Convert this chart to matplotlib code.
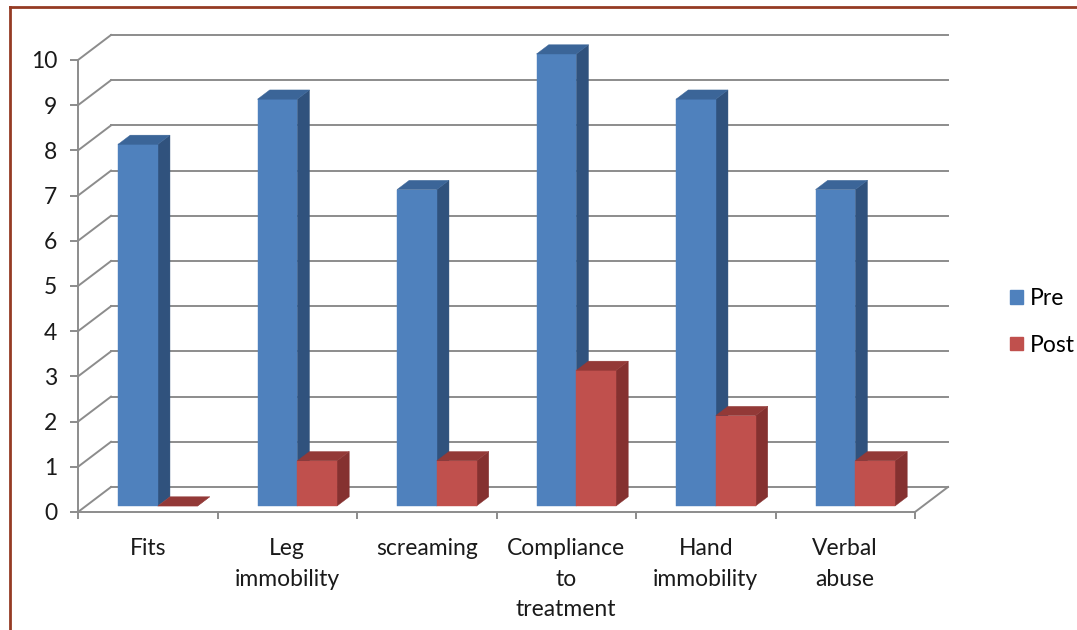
import matplotlib.pyplot as plt
from matplotlib.patches import Polygon, Patch
from matplotlib.lines import Line2D

# Data
categories = ["Fits", "Leg\nimmobility", "screaming", "Compliance\nto\ntreatment",
              "Hand\nimmobility", "Verbal\nabuse"]
pre = [8, 9, 7, 10, 9, 7]
post = [0, 1, 1, 3, 2, 1]
y_ticks = list(range(0, 11))

# Excel-like colours
pre_cols = ("#4F81BD", "#30527D", "#3B6598")    # front, side, top
post_cols = ("#C0504D", "#853130", "#933937")
grid_col = "#8C8C8C"
border_col = "#953B24"

plt.rcParams['font.family'] = ['Lato', 'DejaVu Sans']

W, H = 1077, 630
fig = plt.figure(figsize=(W / 100, H / 100), dpi=100)

# front plane of the plot in pixels
x0, x1 = 78, 915
y0, y1 = 512, 60
ax = fig.add_axes([x0 / W, (H - y0) / H, (x1 - x0) / W, (y0 - y1) / H])
n = len(categories)
ax.set_xlim(0, n)
ax.set_ylim(0, 10)

# oblique depth offset (data units for full depth)
DX = 33 / ((x1 - x0) / n)
DY = 25 / ((y0 - y1) / 10)


def proj(x, y, d):
    return (x + d * DX, y + d * DY)


# walls / gridlines
for v in y_ticks:
    ax.add_line(Line2D(*zip(proj(0, v, 0), proj(0, v, 1)), color=grid_col, lw=1.4,
                       clip_on=False, zorder=1))
    ax.add_line(Line2D(*zip(proj(0, v, 1), proj(n, v, 1)), color=grid_col, lw=1.4,
                       clip_on=False, zorder=1))
ax.add_line(Line2D(*zip(proj(n, 0, 0), proj(n, 0, 1)), color=grid_col, lw=1.4,
                   clip_on=False, zorder=1))

# bars
d_front, d_back = 0.24, 0.61
bw = 0.285
gap = 0.23


def bar3d(xl, h, cols):
    xr = xl + bw
    front = [proj(xl, 0, d_front), proj(xr, 0, d_front), proj(xr, h, d_front), proj(xl, h, d_front)]
    side = [proj(xr, 0, d_front), proj(xr, 0, d_back), proj(xr, h, d_back), proj(xr, h, d_front)]
    top = [proj(xl, h, d_front), proj(xr, h, d_front), proj(xr, h, d_back), proj(xl, h, d_back)]
    for pts, c in ((side, cols[1]), (front, cols[0]), (top, cols[2])):
        ax.add_patch(Polygon(pts, closed=True, facecolor=c, edgecolor=c, lw=0.3,
                             clip_on=False, zorder=3))


for i in range(n):
    bar3d(i + gap, pre[i], pre_cols)
    bar3d(i + gap + bw, post[i], post_cols)

# axes styling
for s in ("top", "right"):
    ax.spines[s].set_visible(False)
for s in ("left", "bottom"):
    ax.spines[s].set_color(grid_col)
    ax.spines[s].set_linewidth(1.4)
    ax.spines[s].set_zorder(2)
ax.set_yticks(y_ticks)
ax.tick_params(axis="y", length=6, width=1.4, color=grid_col, pad=9,
               labelsize=16.5, labelcolor="#1a1a1a")
ax.set_xticks(range(n + 1))
ax.set_xticklabels([])
ax.tick_params(axis="x", which="major", length=5, width=1.4, color=grid_col)
ax.set_xticks([i + 0.5 for i in range(n)], minor=True)
ax.set_xticklabels(categories, minor=True)
ax.tick_params(axis="x", which="minor", length=0, pad=19, labelsize=16.5, labelcolor="#1a1a1a")
for lbl in ax.get_xticklabels(minor=True):
    lbl.set_linespacing(1.55)
    lbl.set_verticalalignment("top")
ax.patch.set_alpha(0)

# legend
handles = [Patch(facecolor=pre_cols[0], edgecolor=pre_cols[0]),
           Patch(facecolor=post_cols[0], edgecolor=post_cols[0])]
fig.legend(handles, ["Pre", "Post"], loc="center left",
           bbox_to_anchor=(1010 / W, 1 - 322 / H), frameon=False, fontsize=16.5,
           borderpad=0, borderaxespad=0,
           handlelength=0.55, handleheight=0.55, handletextpad=0.3, labelspacing=1.1)

# outer border (top and left only visible)
fig.add_artist(Line2D([10 / W, 1], [1 - 7 / H, 1 - 7 / H], color=border_col, lw=2,
                      transform=fig.transFigure))
fig.add_artist(Line2D([10 / W, 10 / W], [0, 1 - 7 / H], color=border_col, lw=2,
                      transform=fig.transFigure))

fig.savefig("out.png", dpi=100)
